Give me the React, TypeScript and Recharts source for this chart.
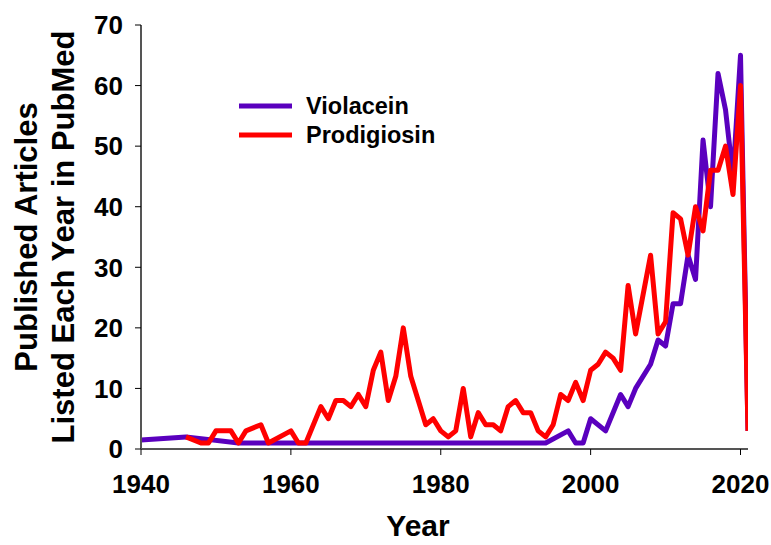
import React from 'react';
import { LineChart, Line, XAxis, YAxis, Legend } from 'recharts';

const violaceinYears = [1940, 1946, 1953, 1994, 1997, 1998, 1999, 2000, 2002, 2004, 2005, 2006, 2008, 2009, 2010, 2011, 2012, 2013, 2014, 2015, 2016, 2017, 2018, 2019, 2020, 2021];
const violaceinValues = [1.5, 2, 1, 1, 3, 1, 1, 5, 3, 9, 7, 10, 14, 18, 17, 24, 24, 32, 28, 51, 40, 62, 56, 45, 65, 3];

const prodigiosinYears = [1946, 1948, 1949, 1950, 1951, 1952, 1953, 1954, 1956, 1957, 1960, 1961, 1962, 1964, 1965, 1966, 1967, 1968, 1969, 1970, 1971, 1972, 1973, 1974, 1975, 1976, 1977, 1978, 1979, 1980, 1981, 1982, 1983, 1984, 1985, 1986, 1987, 1988, 1989, 1990, 1991, 1992, 1993, 1994, 1995, 1996, 1997, 1998, 1999, 2000, 2001, 2002, 2003, 2004, 2005, 2006, 2008, 2009, 2010, 2011, 2012, 2013, 2014, 2015, 2016, 2017, 2018, 2019, 2020, 2021];
const prodigiosinValues = [2, 1, 1, 3, 3, 3, 1, 3, 4, 1, 3, 1, 1, 7, 5, 8, 8, 7, 9, 7, 13, 16, 8, 12, 20, 12, 8, 4, 5, 3, 2, 3, 10, 2, 6, 4, 4, 3, 7, 8, 6, 6, 3, 2, 4, 9, 8, 11, 8, 13, 14, 16, 15, 13, 27, 19, 32, 19, 21, 39, 38, 32, 40, 36, 46, 46, 50, 42, 60, 3];

const xTicks = [1940, 1960, 1980, 2000, 2020];
const yTicks = [0, 10, 20, 30, 40, 50, 60, 70];

const seriesNames = ['Violacein', 'Prodigiosin'];
const seriesColors = ['#5A00BE', '#FF0000'];

const violaceinData = violaceinYears.map((x, i) => ({ x, y: violaceinValues[i] }));
const prodigiosinData = prodigiosinYears.map((x, i) => ({ x, y: prodigiosinValues[i] }));

const FONT = '"Liberation Sans", Arial, sans-serif';
const AXIS = '#555555';

const LegendBox = () => (
  <svg width={280} height={60} style={{ display: 'block' }}>
    {seriesNames.map((n, i) => (
      <g key={n}>
        <line x1={0} x2={53} y1={14 + i * 29} y2={14 + i * 29} stroke={seriesColors[i]} strokeWidth={5} />
        <text x={67} y={22 + i * 29} fontFamily={FONT} fontWeight="bold" fontSize={23.5} fill="#000">{n}</text>
      </g>
    ))}
  </svg>
);

const YTitle = (props: any) => {
  const vb = props.viewBox || { x: 0, y: 25, width: 141, height: 424 };
  const cy = vb.y + vb.height / 2;
  return (
    <g>
      <text x={37} y={cy} transform={`rotate(-90, 37, ${cy})`} textAnchor="middle" fontFamily={FONT} fontWeight="bold" fontSize={31} fill="#000">Published Articles</text>
      <text x={74} y={cy} transform={`rotate(-90, 74, ${cy})`} textAnchor="middle" fontFamily={FONT} fontWeight="bold" fontSize={31} fill="#000">Listed Each Year in PubMed</text>
    </g>
  );
};

const XTitle = () => (
  <text x={418} y={536} textAnchor="middle" fontFamily={FONT} fontWeight="bold" fontSize={30} fill="#000">Year</text>
);

export default function App() {
  return (
    <div style={{ position: 'absolute', left: 0, top: 0, background: '#fff' }}>
      <LineChart width={771} height={545} margin={{ top: 25, right: 23, left: 0, bottom: 0 }}>
        <XAxis
          dataKey="x"
          type="number"
          domain={[1940, 2021]}
          ticks={xTicks}
          allowDataOverflow
          height={96}
          tickSize={6}
          tickMargin={20}
          axisLine={{ stroke: AXIS, strokeWidth: 2 }}
          tickLine={{ stroke: '#000', strokeWidth: 1 }}
          tick={{ fill: '#000', fontFamily: FONT, fontWeight: 'bold', fontSize: 26 }}
          label={<XTitle />}
        />
        <XAxis xAxisId="top" orientation="top" type="number" domain={[1940, 2021]} height={0} tick={false} tickLine={false} axisLine={{ stroke: AXIS, strokeWidth: 2 }} />
        <YAxis
          type="number"
          domain={[0, 70]}
          ticks={yTicks}
          interval={0}
          width={141}
          tickSize={6}
          tickMargin={12}
          axisLine={{ stroke: AXIS, strokeWidth: 2 }}
          tickLine={{ stroke: '#000', strokeWidth: 1 }}
          tick={{ fill: '#000', fontFamily: FONT, fontWeight: 'bold', fontSize: 26 }}
          label={<YTitle />}
        />
        <YAxis yAxisId="right" orientation="right" type="number" domain={[0, 70]} width={0} tick={false} tickLine={false} axisLine={{ stroke: AXIS, strokeWidth: 2 }} />
        <Legend layout="horizontal" verticalAlign="middle" align="center" content={<LegendBox />} wrapperStyle={{ position: 'absolute', left: 239, top: 92, width: 280 }} />
        <Line data={violaceinData} dataKey="y" name={seriesNames[0]} type="linear" stroke={seriesColors[0]} strokeWidth={5} dot={false} isAnimationActive={false} strokeLinejoin="round" />
        <Line data={prodigiosinData} dataKey="y" name={seriesNames[1]} type="linear" stroke={seriesColors[1]} strokeWidth={5} dot={false} isAnimationActive={false} strokeLinejoin="round" />
      </LineChart>
    </div>
  );
}
